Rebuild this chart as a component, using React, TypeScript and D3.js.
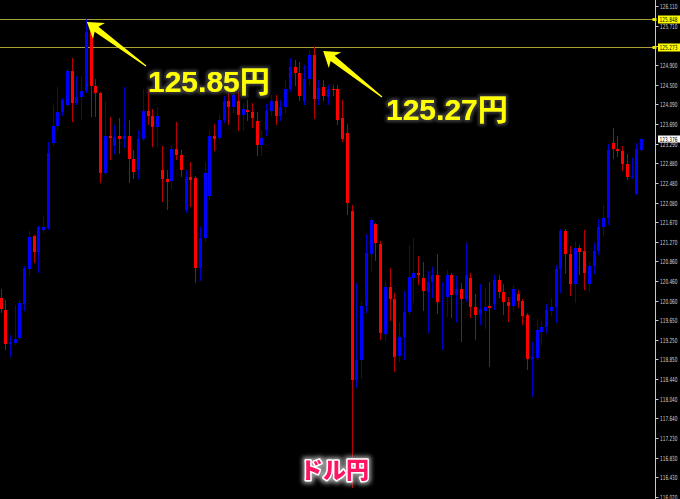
import React from 'react';
import * as d3 from 'd3';

// USD/JPY candles, left to right
const opens = [
  120.10, 119.86, 119.16, 119.18, 119.28, 119.98, 120.70, 121.38, 121.05, 121.50,
  121.54, 123.30, 123.64, 123.94, 124.08, 124.78, 124.12, 124.25, 124.36, 125.59,
  124.48, 124.33, 122.69, 123.44, 123.23, 123.44, 123.38, 123.44, 122.97, 122.75,
  123.37, 123.95, 123.85, 123.63, 122.75, 122.55, 122.51, 123.18, 123.06, 121.92,
  122.59, 122.57, 120.72, 121.34, 122.20, 123.45, 123.41, 123.77, 124.16, 124.04,
  124.16, 123.88, 123.97, 123.93, 123.75, 123.25, 123.57, 123.95, 124.16, 123.85,
  124.03, 124.40, 124.87, 124.74, 124.16, 124.62, 125.11, 124.21, 124.45, 124.25,
  124.41, 124.40, 123.82, 123.51, 121.90, 118.43, 118.84, 119.95, 121.02, 121.64,
  121.23, 119.37, 120.34, 120.08, 118.92, 119.30, 119.82, 120.53, 120.63, 120.53,
  120.23, 120.43, 120.58, 120.02, 120.13, 120.58, 120.17, 120.29, 120.08, 120.53,
  119.93, 119.76, 119.84, 119.95, 119.98, 120.47, 120.23, 120.03, 119.95, 120.19,
  120.05, 119.76, 118.85, 118.88, 119.40, 119.52, 119.84, 119.93, 120.70, 121.49,
  121.01, 120.39, 121.13, 121.08, 120.39, 120.77, 121.07, 121.58, 121.75, 123.29,
  123.18, 123.14, 122.86, 122.60, 122.25, 123.16,
];
const highs = [
  120.29, 120.06, 119.35, 119.96, 120.06, 120.76, 121.49, 121.40, 121.60, 121.79,
  123.31, 124.07, 124.46, 124.22, 124.81, 125.05, 124.68, 124.68, 125.85, 125.61,
  124.62, 124.34, 124.17, 123.84, 123.66, 123.82, 124.45, 123.78, 123.16, 123.57,
  124.41, 124.41, 123.99, 124.03, 123.23, 122.75, 123.23, 123.72, 123.16, 122.75,
  122.90, 122.61, 121.58, 122.90, 123.57, 123.68, 123.88, 124.27, 124.33, 124.33,
  124.36, 124.13, 124.19, 124.13, 123.94, 123.57, 124.09, 124.29, 124.29, 124.19,
  124.60, 125.05, 125.01, 124.97, 124.91, 125.22, 125.27, 124.60, 124.60, 124.50,
  124.50, 124.50, 124.19, 123.68, 122.03, 120.41, 120.05, 121.42, 121.75, 121.66,
  121.28, 120.46, 120.72, 120.21, 119.61, 120.25, 121.21, 121.34, 120.97, 120.85,
  120.67, 120.75, 121.01, 120.43, 120.68, 120.62, 120.56, 120.41, 121.25, 120.62,
  120.19, 120.39, 120.32, 120.43, 120.58, 120.58, 120.39, 120.13, 120.37, 120.28,
  120.08, 119.81, 119.20, 119.67, 119.64, 119.98, 120.10, 120.78, 121.52, 121.52,
  121.18, 121.28, 121.21, 121.51, 120.84, 121.25, 121.73, 122.03, 123.28, 123.61,
  123.45, 123.23, 123.08, 122.99, 123.30, 123.40,
];
const lows = [
  119.82, 119.06, 118.91, 119.17, 119.27, 119.86, 120.58, 120.85, 120.64, 121.46,
  121.52, 123.25, 123.57, 123.88, 124.07, 123.75, 124.09, 123.80, 124.35, 123.85,
  123.85, 122.49, 122.67, 122.96, 123.10, 123.10, 123.21, 122.49, 122.57, 122.57,
  123.35, 123.68, 123.23, 123.23, 122.10, 121.95, 122.38, 122.96, 122.61, 121.87,
  122.01, 120.43, 120.49, 121.28, 122.14, 123.16, 123.37, 123.74, 123.68, 123.94,
  123.57, 123.57, 123.78, 123.62, 123.06, 123.06, 123.47, 123.88, 123.68, 123.78,
  123.94, 124.36, 124.50, 124.19, 124.09, 124.50, 123.82, 124.09, 124.19, 124.09,
  124.29, 123.68, 123.33, 121.83, 116.22, 118.28, 118.46, 119.82, 120.67, 120.89,
  119.26, 119.23, 119.66, 118.61, 118.82, 118.85, 119.78, 120.02, 120.39, 119.86,
  119.41, 120.13, 119.81, 119.06, 119.74, 119.71, 119.64, 119.23, 120.05, 119.71,
  119.26, 119.57, 119.50, 118.71, 119.88, 120.12, 119.78, 119.64, 119.84, 119.93,
  119.57, 118.65, 118.10, 118.85, 119.16, 119.42, 119.76, 119.62, 120.23, 120.63,
  120.17, 120.02, 120.60, 120.29, 120.25, 120.63, 121.01, 121.40, 121.64, 122.99,
  123.03, 122.75, 122.55, 122.57, 122.24, 123.15,
];
const closes = [
  119.88, 119.16, 119.20, 119.26, 120.00, 120.72, 121.36, 121.05, 121.58, 121.56,
  123.10, 123.64, 123.94, 124.19, 124.78, 124.12, 124.25, 124.36, 125.59, 124.48,
  124.33, 122.69, 123.44, 123.40, 123.43, 123.38, 123.44, 122.96, 122.70, 123.37,
  123.95, 123.85, 123.63, 123.86, 122.55, 122.49, 123.18, 123.06, 122.75, 122.59,
  122.53, 120.72, 121.34, 122.69, 123.45, 123.39, 123.77, 124.16, 124.04, 124.28,
  123.88, 123.99, 123.93, 123.82, 123.25, 123.41, 123.95, 124.16, 123.85, 124.03,
  124.41, 124.87, 124.74, 124.26, 124.62, 125.11, 124.21, 124.43, 124.27, 124.40,
  124.38, 123.78, 123.37, 122.07, 118.43, 118.84, 119.94, 121.03, 121.71, 121.25,
  119.39, 120.34, 120.08, 118.89, 119.30, 119.83, 120.54, 120.63, 120.59, 120.25,
  120.43, 120.58, 120.02, 120.04, 120.58, 120.17, 120.29, 120.08, 120.58, 119.93,
  119.76, 119.89, 119.93, 119.91, 120.47, 120.23, 120.02, 119.95, 120.29, 120.05,
  119.74, 118.85, 118.90, 119.45, 119.52, 119.86, 119.93, 120.71, 121.49, 121.01,
  120.39, 121.13, 121.06, 120.62, 120.77, 121.08, 121.58, 121.76, 123.16, 123.18,
  123.13, 122.86, 122.60, 122.61, 123.18, 123.38,
];

const tickLabels = [
  '126.110', '125.710', '125.300', '124.900', '124.500', '124.090', '123.690',
  '123.290', '122.880', '122.480', '122.080', '121.670', '121.270', '120.860',
  '120.460', '120.060', '119.650', '119.250', '118.850', '118.440', '118.040',
  '117.640', '117.230', '116.830', '116.430', '116.020',
];

const levelLines = [125.848, 125.273];
const currentPrice = 123.376;
const callouts = ['125.85円', '125.27円'];
const title = 'ドル円';

const W = 680;
const H = 499;
const AXIS_X = 655.5;

function arrowPoints(tip: [number, number], tail: [number, number]) {
  const [tx, ty] = tip;
  const dx = tail[0] - tx;
  const dy = tail[1] - ty;
  const len = Math.hypot(dx, dy);
  const ux = dx / len, uy = dy / len;
  const px = -uy, py = ux;
  const headLen = 15, headW = 10, shaftW = 3.2;
  const bx = tx + ux * headLen, by = ty + uy * headLen;
  const nx = tx + ux * (headLen - 3), ny = ty + uy * (headLen - 3);
  return [
    [tx, ty],
    [bx + px * headW, by + py * headW],
    [nx + px * shaftW, ny + py * shaftW],
    [tail[0] + px * 0.6, tail[1] + py * 0.6],
    [tail[0] - px * 0.6, tail[1] - py * 0.6],
    [nx - px * shaftW, ny - py * shaftW],
    [bx - px * headW, by - py * headW],
  ].map((p) => p.join(',')).join(' ');
}

export default function App() {
  const n = opens.length;
  const x = d3.scaleLinear().domain([0, n - 1]).range([0.5, 641.1]);
  const y = d3.scaleLinear().domain([116.02, 126.11]).range([496.8, 6.3]);
  const tickY = d3.scaleLinear().domain([0, tickLabels.length - 1]).range([y(126.11), y(116.02)]);

  const candles = opens.map((o, i) => {
    const c = closes[i];
    const up = c >= o;
    const cx = Math.round(x(i));
    const top = Math.round(y(Math.max(o, c)));
    const bot = Math.round(y(Math.min(o, c)));
    return {
      i,
      up,
      cx,
      top,
      h: Math.max(1, bot - top),
      hi: Math.round(y(Math.max(highs[i], o, c))),
      lo: Math.round(y(Math.min(lows[i], o, c))),
    };
  });

  const labelFont = "'DejaVu Sans', sans-serif";

  return (
    <svg width={W} height={H} style={{ position: 'absolute', left: 0, top: 0, background: '#000' }}>
      <defs>
        <filter id="darkGlow" x="-20%" y="-40%" width="140%" height="180%">
          <feMorphology in="SourceAlpha" operator="dilate" radius="2" result="d" />
          <feGaussianBlur in="d" stdDeviation="1.5" result="b" />
          <feFlood floodColor="#3a3a3a" />
          <feComposite in2="b" operator="in" result="g" />
          <feMerge>
            <feMergeNode in="g" />
            <feMergeNode in="SourceGraphic" />
          </feMerge>
        </filter>
        <filter id="grayGlow" x="-20%" y="-40%" width="140%" height="180%">
          <feMorphology in="SourceAlpha" operator="dilate" radius="2" result="d" />
          <feGaussianBlur in="d" stdDeviation="2" result="b" />
          <feFlood floodColor="#9a9a9a" />
          <feComposite in2="b" operator="in" result="g" />
          <feMerge>
            <feMergeNode in="g" />
            <feMergeNode in="SourceGraphic" />
          </feMerge>
        </filter>
      </defs>
      <rect x={0} y={0} width={W} height={H} fill="#000" />

      {/* price level lines */}
      {levelLines.map((v) => (
        <line key={v} x1={0} x2={AXIS_X} y1={Math.round(y(v)) + 0.5} y2={Math.round(y(v)) + 0.5} stroke="#a8a032" strokeWidth={1} />
      ))}

      {/* candles */}
      {candles.map((d) => (
        <g key={d.i}>
          <line x1={d.cx + 0.5} x2={d.cx + 0.5} y1={d.hi} y2={d.lo + 1} stroke={d.up ? '#0000c8' : '#b80000'} strokeWidth={1} />
          <rect x={d.cx - 1} y={d.top} width={3} height={d.h} fill={d.up ? '#0000ff' : '#ff0000'} />
        </g>
      ))}

      {/* right price axis */}
      <line x1={AXIS_X} x2={AXIS_X} y1={0} y2={H} stroke="#c8c8c8" strokeWidth={1} />
      {tickLabels.map((t, i) => {
        const ty = Math.round(tickY(i)) + 0.5;
        return (
          <g key={t}>
            <line x1={AXIS_X} x2={AXIS_X + 3} y1={ty} y2={ty} stroke="#c8c8c8" />
            <text x={660} y={ty + 2.5} fontSize={7} fill="#d0d0d0" fontFamily={labelFont} textLength={17.5} lengthAdjust="spacingAndGlyphs">
              {t}
            </text>
          </g>
        );
      })}

      {levelLines.map((v) => {
        const ly = Math.round(y(v)) + 0.5;
        return (
          <g key={'l' + v}>
            <rect x={652.5} y={ly - 1.5} width={4} height={3} fill="#e8e800" />
            <rect x={658} y={ly - 4} width={22} height={8} fill="#ffff00" />
            <text x={659.5} y={ly + 2.5} fontSize={7} fill="#000" fontFamily={labelFont} textLength={18} lengthAdjust="spacingAndGlyphs">
              {v.toFixed(3)}
            </text>
          </g>
        );
      })}
      <rect x={658} y={Math.round(y(currentPrice)) - 3.5} width={22} height={7} fill="#ffffff" />
      <text x={659.5} y={Math.round(y(currentPrice)) + 2.5} fontSize={7} fill="#000" fontFamily={labelFont} textLength={18} lengthAdjust="spacingAndGlyphs">
        {currentPrice.toFixed(3)}
      </text>

      {/* callout arrows */}
      <polygon points={arrowPoints([x(18) + 1, y(levelLines[0]) + 3], [146, 66])} fill="#ffff00" />
      <polygon points={arrowPoints([x(68), y(levelLines[1]) + 4], [382, 97])} fill="#ffff00" />

      <g filter="url(#darkGlow)" fontFamily="'Liberation Sans', 'Noto Sans CJK JP', sans-serif" fontWeight="bold" fontSize={30} fill="#ffff00">
        <text x={148} y={92}>{callouts[0]}</text>
        <text x={386} y={120}>{callouts[1]}</text>
      </g>

      <text
        x={334.5}
        y={478}
        textAnchor="middle"
        filter="url(#grayGlow)"
        fontFamily="'Noto Sans CJK JP', sans-serif"
        fontWeight={900}
        fontSize={23}
        fill="#ff1463"
        stroke="#ffffff"
        strokeWidth={3}
        paintOrder="stroke"
        strokeLinejoin="round"
      >
        {title}
      </text>
    </svg>
  );
}
